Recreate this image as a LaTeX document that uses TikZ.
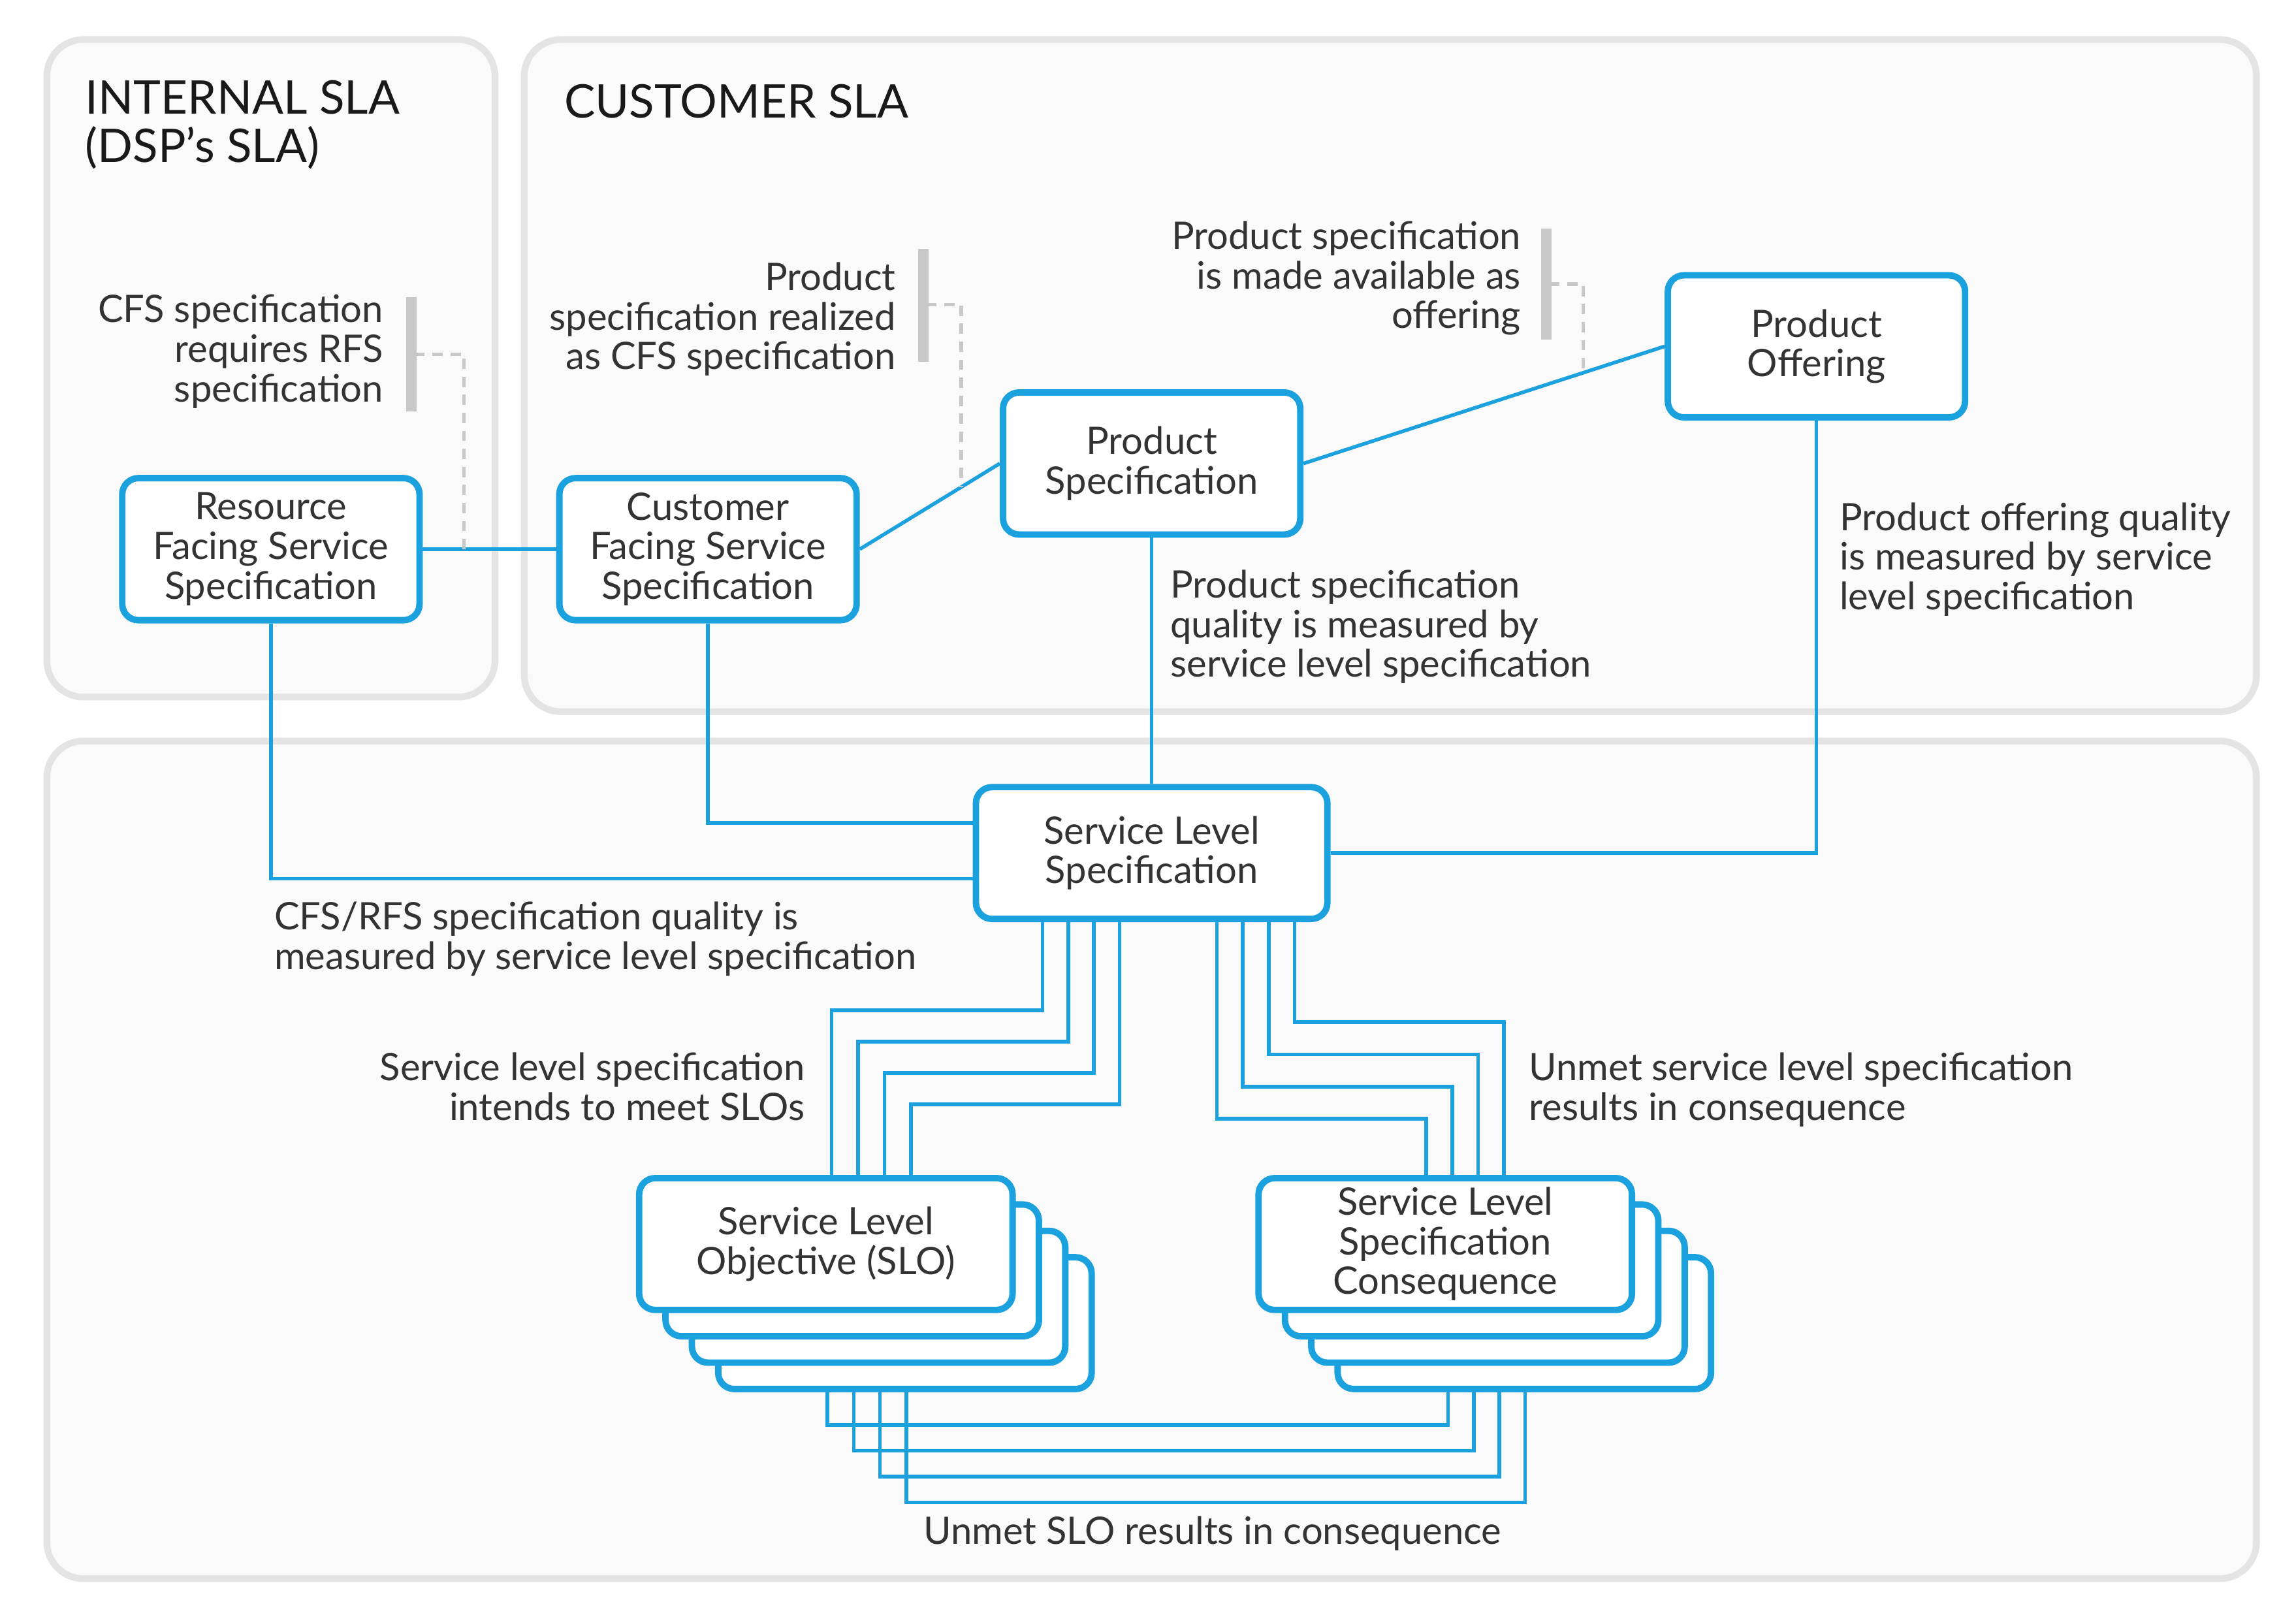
\documentclass[tikz,border=0pt]{standalone}
\usepackage{fontspec}
\setmainfont{Lato}
\usetikzlibrary{calc}
\definecolor{slablue}{HTML}{1BA1DE}
\definecolor{framegray}{HTML}{E4E4E4}
\definecolor{framefill}{HTML}{FAFAFA}
\definecolor{bargray}{HTML}{C8C8C8}
\definecolor{dashgray}{HTML}{C8C8C8}
\definecolor{txtgray}{HTML}{333333}
\tikzset{
	slaframe/.style={draw=framegray, fill=framefill, line width=2.6pt, rounded corners=5mm},
	box/.style={draw=slablue, fill=white, line width=2.5pt, rounded corners=2.2mm, align=center, text=txtgray, font=\fontsize{14.7}{15.4}\selectfont, inner sep=0pt},
	specbox/.style={box, minimum width=40.6mm, minimum height=19.4mm},
	card/.style={box, minimum width=51mm, minimum height=18mm},
	link/.style={draw=slablue, line width=1.4pt},
	note/.style={text=txtgray, font=\fontsize{14.7}{15.4}\selectfont, inner sep=0pt},
	title/.style={text=black!90, font=\fontsize{18}{18.8}\selectfont, inner sep=0pt, align=left},
	bar/.style={draw=bargray, line width=4pt},
	hint/.style={draw=dashgray, line width=1.4pt, dash pattern=on 4pt off 3pt}
}

\begin{document}
\begin{tikzpicture}[x=0.2mm, y=-0.2mm]
		%%%%% FRAMES %%%%%
		\useasboundingbox (0,0) rectangle (1568,1104);
		\fill[white] (0,0) rectangle (1568,1104);
		\draw[slaframe] (32,27) rectangle (338,476);
		\draw[slaframe] (358,27) rectangle (1541,486);
		\draw[slaframe] (32,506) rectangle (1541,1078);
		
		\node[title, anchor=west] (tint) at (58,85) {INTERNAL SLA\\(DSP’s SLA)};
		\node[title, anchor=west] (tcust) at (385,69) {CUSTOMER SLA};
		
		%%%%% SPECIFICATIONS %%%%%
		\node[specbox] (rfs) at (185,375) {Resource\\Facing Service\\Specification};
		\node[specbox] (cfs) at (483.5,375) {Customer\\Facing Service\\Specification};
		\node[specbox] (ps) at (786.5,316.5) {Product\\Specification};
		\node[specbox] (po) at (1240.5,236.5) {Product\\Offering};
		\node[box, minimum width=48mm, minimum height=18mm] (sls) at (786.5,582.5) {Service Level\\Specification};
		
		%%%%% STACKS %%%%%
		\node[card] (slo3) at (618,903.5) {};
		\node[card] (slo2) at (600,885.5) {};
		\node[card] (slo1) at (582,867.5) {};
		\node[card] (slo) at (564,849.5) {Service Level\\Objective (SLO)};
		\node[card] (slsc3) at (1041,903.5) {};
		\node[card] (slsc2) at (1023,885.5) {};
		\node[card] (slsc1) at (1005,867.5) {};
		\node[card] (slsc) at (987,849.5) {Service Level\\Specification\\Consequence};
		
		%%%%% LINKS %%%%%
		\draw[link] (rfs) -- (cfs);
		\draw[link] (cfs.east) -- (ps.west);
		\draw[link] (ps.east) -- (po.west);
		\draw[link] (ps) -- (sls);
		\draw[link] (cfs.south) |- ($(sls.west)+(0,-20.5)$);
		\draw[link] (rfs.south) |- ($(sls.west)+(0,17.5)$);
		\draw[link] (po.south) |- (sls.east);
		
		\draw[link] (sls.south -| 712,0) |- (568,690) -- (568,0 |- slo.north);
		\draw[link] (sls.south -| 729.5,0) |- (586,711.3) -- (586,0 |- slo.north);
		\draw[link] (sls.south -| 747,0) |- (604,732.6) -- (604,0 |- slo.north);
		\draw[link] (sls.south -| 764.5,0) |- (622,754) -- (622,0 |- slo.north);
		
		\draw[link] (sls.south -| 831,0) |- (974,764) -- (974,0 |- slsc.north);
		\draw[link] (sls.south -| 848.7,0) |- (991.7,742) -- (991.7,0 |- slsc.north);
		\draw[link] (sls.south -| 866.4,0) |- (1009.4,720) -- (1009.4,0 |- slsc.north);
		\draw[link] (sls.south -| 884.1,0) |- (1027.1,698) -- (1027.1,0 |- slsc.north);
		
		\draw[link] (slo3.south -| 565,0) |- (989,973) -- (989,0 |- slsc3.south);
		\draw[link] (slo3.south -| 583,0) |- (1006.5,990.7) -- (1006.5,0 |- slsc3.south);
		\draw[link] (slo3.south -| 601,0) |- (1024,1008.4) -- (1024,0 |- slsc3.south);
		\draw[link] (slo3.south -| 619,0) |- (1041.5,1026) -- (1041.5,0 |- slsc3.south);
		
		%%%%% NOTES %%%%%
		\node[note, anchor=east, align=right] (n1) at (262,240) {CFS specification\\requires RFS\\specification};
		\node[note, anchor=east, align=right] (n2) at (612,218) {Product\\specification realized\\as CFS specification};
		\node[note, anchor=east, align=right] (n3) at (1039,190) {Product specification\\is made available as\\offering};
		\node[note, anchor=west, align=left] (n4) at (799,428) {Product specification\\quality is measured by\\service level specification};
		\node[note, anchor=west, align=left] (n5) at (1256,382) {Product offering quality\\is measured by service\\level specification};
		\node[note, anchor=west, align=left] (n6) at (187,641) {CFS/RFS specification quality is\\measured by service level specification};
		\node[note, anchor=east, align=right] (n7) at (550,742) {Service level specification\\intends to meet SLOs};
		\node[note, anchor=west, align=left] (n8) at (1044,744) {Unmet service level specification\\results in consequence};
		\node[note] (n9) at (828,1047) {Unmet SLO results in consequence};
		
		\coordinate (m1) at ($(rfs.east)!0.31!(cfs.west)$);
		\coordinate (m2) at ($(cfs.east)!0.7245!(ps.west)$);
		\coordinate (m3) at ($(ps.east)!0.775!(po.west)$);
		
		\draw[bar] (281,203) -- (281,281);
		\draw[hint] (283,242) -| (m1);
		\draw[bar] (630.5,170) -- (630.5,247);
		\draw[hint] (632.5,208) -| (m2);
		\draw[bar] (1056,156) -- (1056,232);
		\draw[hint] (1058,194) -| (m3);
		
		%%%%% END %%%%%
\end{tikzpicture}
\end{document}
